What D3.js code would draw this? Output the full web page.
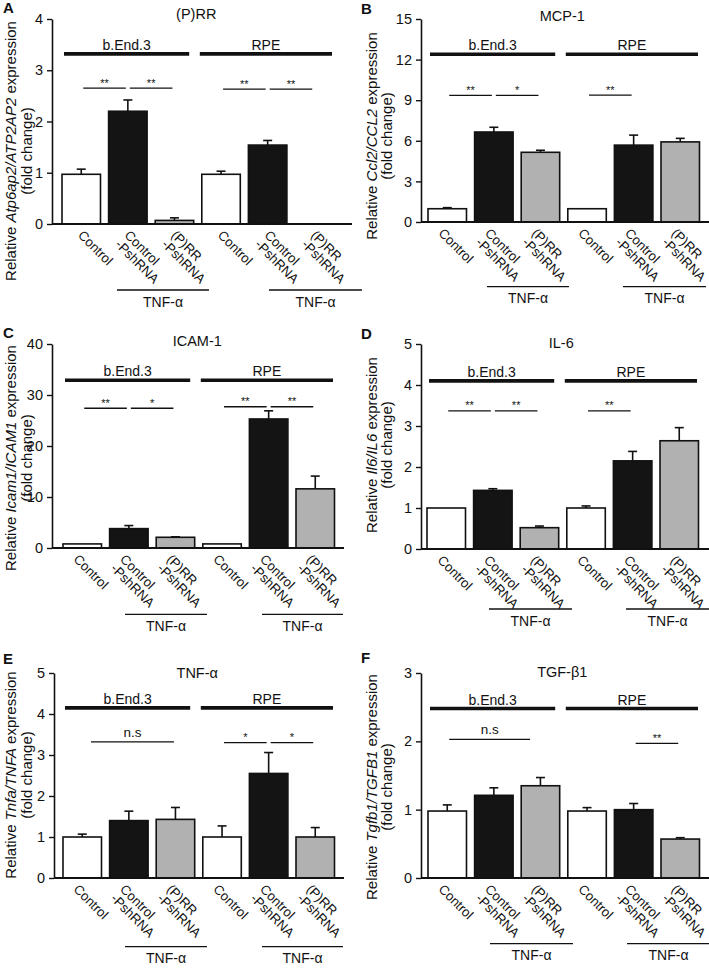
<!DOCTYPE html>
<html><head><meta charset="utf-8">
<script src="https://cdn.jsdelivr.net/npm/d3@7"></script>
<style>body{margin:0;background:#fff}svg{display:block}text{font-family:"Liberation Sans",Arial,sans-serif;fill:#111}</style>
</head><body>
<script>
// ---------- data ----------
const categories = [["Control"],["Control","-PshRNA"],["(P)RR","-PshRNA"],["Control"],["Control","-PshRNA"],["(P)RR","-PshRNA"]];
const barFills = ["white","black","gray","white","black","gray"];
const groupLabels = ["b.End.3","RPE"];
const treatmentLabel = "TNF-α";

const titles = ["(P)RR","MCP-1","ICAM-1","IL-6","TNF-α","TGF-β1"];
const genes = ["Atp6ap2/ATP2AP2","Ccl2/CCL2","Icam1/ICAM1","Il6/IL6","Tnfa/TNFA","Tgfb1/TGFB1"];
const letters = ["A","B","C","D","E","F"];

const valuesA = [0.97, 2.20, 0.07, 0.97, 1.54, 0];
const semA    = [0.10, 0.22, 0.05, 0.06, 0.09, 0];
const valuesB = [0.98, 6.65, 5.15, 0.98, 5.68, 5.92];
const semB    = [0.08, 0.35, 0.15, 0, 0.74, 0.26];
const valuesC = [0.8, 3.8, 2.1, 0.8, 25.3, 11.6];
const semC    = [0, 0.6, 0.1, 0, 1.6, 2.5];
const valuesD = [1.0, 1.43, 0.52, 1.0, 2.15, 2.64];
const semD    = [0, 0.04, 0.04, 0.05, 0.23, 0.32];
const valuesE = [1.0, 1.40, 1.43, 1.0, 2.55, 1.0];
const semE    = [0.07, 0.23, 0.29, 0.27, 0.51, 0.23];
const valuesF = [0.98, 1.21, 1.35, 0.98, 1.0, 0.57];
const semF    = [0.09, 0.11, 0.12, 0.05, 0.09, 0.02];

const ticksA = [0,1,2,3,4];
const ticksB = [0,3,6,9,12,15];
const ticksC = [0,10,20,30,40];
const ticksD = [0,1,2,3,4,5];
const ticksE = [0,1,2,3,4,5];
const ticksF = [0,1,2,3];

// group bar heights (data units) and significance marks [from, to, label, y]
const groupYA = 3.32, groupYB = 12.4, groupYC = 32.9, groupYD = 4.1, groupYE = 4.15, groupYF = 2.48;
const sigA = [[0,1,"**",2.65],[1,2,"**",2.65],[3,4,"**",2.63],[4,5,"**",2.63]];
const sigB = [[0,1,"**",9.35],[1,2,"*",9.35],[3,4,"**",9.37]];
const sigC = [[0,1,"**",27.4],[1,2,"*",27.4],[3,4,"**",27.7],[4,5,"**",27.7]];
const sigD = [[0,1,"**",3.37],[1,2,"**",3.37],[3,4,"**",3.37]];
const sigE = [[0.145,2.01,"n.s",3.32],[3,4,"*",3.30],[4,5,"*",3.30]];
const sigF = [[0,1.82,"n.s",2.03],[4,5,"**",1.97]];

const valuesAll = [valuesA,valuesB,valuesC,valuesD,valuesE,valuesF];
const semAll = [semA,semB,semC,semD,semE,semF];
const ticksAll = [ticksA,ticksB,ticksC,ticksD,ticksE,ticksF];
const groupYAll = [groupYA,groupYB,groupYC,groupYD,groupYE,groupYF];
const sigAll = [sigA,sigB,sigC,sigD,sigE,sigF];

// ---------- layout (pixels) ----------
const layout = [
  {x0:52, x1:352, yTop:19, yZero:224, first:62, letterX:3, letterY:13, titleY:18.5, labX1:16, labX2:32, labCY:151, tnf:[8.4,15.3,20.6,28.5], tnfDY:66, xlabDX:-4},
  {x0:421,x1:709, yTop:19, yZero:222, first:428, letterX:361, letterY:13.5, titleY:20.5, labX1:377, labX2:392, labCY:136, tnf:[12.4,9.3,8.6,6.5], tnfDY:64.7, xlabDX:-9.5},
  {x0:52, x1:344, yTop:344, yZero:548, first:63, letterX:3, letterY:338, titleY:346, labX1:16, labX2:32, labCY:458, tnf:[15.4,12.3,12.6,8.5], tnfDY:66.3, xlabDX:-9.5},
  {x0:421,x1:709, yTop:344, yZero:549, first:427, letterX:361, letterY:339, titleY:348, labX1:377, labX2:392, labCY:445, tnf:[15.4,13.3,12.6,10.5], tnfDY:60, xlabDX:-9.5},
  {x0:54, x1:344, yTop:673, yZero:878, first:63, letterX:3, letterY:664, titleY:678, labX1:16, labX2:32, labCY:775, tnf:[15.4,12.3,12.6,8.5], tnfDY:68.7, xlabDX:-9.5},
  {x0:421,x1:709, yTop:673, yZero:878, first:428, letterX:361, letterY:663, titleY:677, labX1:377, labX2:392, labCY:787, tnf:[15.4,13.3,12.6,10.5], tnfDY:65.6, xlabDX:-9.5}
];
const fillColor = {white:"#ffffff", black:"#141414", gray:"#b1b1b1"};
const pitch = 46.6, pad = 0.174;

const svg = d3.select("body").append("svg").attr("width",709).attr("height",968);

layout.forEach((L,p)=>{
  const g = svg.append("g");
  const vals = valuesAll[p], sem = semAll[p], ticks = ticksAll[p];
  const ymax = ticks[ticks.length-1];
  const y = d3.scaleLinear().domain([0,ymax]).range([L.yZero,L.yTop]);
  const r0 = L.first - pad*pitch/2;
  const x = d3.scaleBand().domain(d3.range(6)).range([r0, r0+6*pitch]).paddingInner(pad).paddingOuter(pad/2);
  const bw = x.bandwidth(), step = x.step();
  const cx = f => x(0) + bw/2 + f*step;

  // letter + title
  g.append("text").attr("x",L.letterX).attr("y",L.letterY).attr("font-size",15).attr("font-weight","bold").text(letters[p]);
  g.append("text").attr("x",(x(0)+x(5)+bw)/2-1.5).attr("y",L.titleY).attr("font-size",14.5).attr("text-anchor","middle").text(titles[p]);

  // y axis
  const ax = g.append("g").attr("transform",`translate(${L.x0},0)`)
    .call(d3.axisLeft(y).tickValues(ticks).tickFormat(d3.format("d")).tickSize(5).tickSizeOuter(0).tickPadding(4));
  ax.select(".domain").attr("stroke","#111").attr("stroke-width",1.6);
  ax.selectAll(".tick line").attr("stroke","#111").attr("stroke-width",1.4);
  ax.selectAll(".tick text").attr("font-size",14.5).attr("font-family","Liberation Sans, Arial, sans-serif").attr("fill","#222");

  // y label
  const lab = g.append("text").attr("transform",`translate(${L.labX1},${L.labCY}) rotate(-90)`).attr("text-anchor","middle").attr("font-size",15);
  lab.append("tspan").text("Relative ");
  lab.append("tspan").attr("font-style","italic").text(genes[p]);
  lab.append("tspan").text(" expression");
  g.append("text").attr("transform",`translate(${L.labX2},${L.labCY}) rotate(-90)`).attr("text-anchor","middle").attr("font-size",15).text("(fold change)");

  // bars
  g.selectAll("rect.bar").data(vals).join("rect")
    .attr("x",(d,i)=>x(i)).attr("width",bw)
    .attr("y",d=>y(d)).attr("height",d=>L.yZero - y(d))
    .attr("fill",(d,i)=>fillColor[barFills[i]])
    .attr("stroke","#111").attr("stroke-width",1.6)
    .attr("display",d=>d>0?null:"none");
  // error bars
  const eb = g.selectAll("g.err").data(vals.map((v,i)=>({v,s:sem[i],i})).filter(d=>d.s>0)).join("g");
  eb.append("line").attr("x1",d=>x(d.i)+bw/2).attr("x2",d=>x(d.i)+bw/2)
    .attr("y1",d=>y(d.v)).attr("y2",d=>y(d.v+d.s)).attr("stroke","#111").attr("stroke-width",1.6);
  eb.append("line").attr("x1",d=>x(d.i)+bw/2-4.5).attr("x2",d=>x(d.i)+bw/2+4.5)
    .attr("y1",d=>y(d.v+d.s)).attr("y2",d=>y(d.v+d.s)).attr("stroke","#111").attr("stroke-width",1.6);

  // x axis line
  g.append("line").attr("x1",L.x0).attr("x2",L.x1).attr("y1",L.yZero).attr("y2",L.yZero).attr("stroke","#111").attr("stroke-width",1.8);

  // x labels (rotated)
  categories.forEach((lines,i)=>{
    const t = g.append("text").attr("transform",`translate(${x(i)+bw/2+L.xlabDX},${L.yZero+12}) rotate(45)`).attr("font-size",13.2);
    lines.forEach((s,k)=>t.append("tspan").attr("x",0).attr("dy",k?"1.0em":0).text(s));
  });

  // group bars
  const gy = y(groupYAll[p]);
  const groups = [[x(0)+2, x(2)+bw-4.5],[x(3)-2, x(5)+bw-1.5]];
  groups.forEach((s,k)=>{
    g.append("line").attr("x1",s[0]).attr("x2",s[1]).attr("y1",gy).attr("y2",gy).attr("stroke","#111").attr("stroke-width",3.6);
    g.append("text").attr("x",(s[0]+s[1])/2).attr("y",gy-3.8).attr("text-anchor","middle").attr("font-size",14).text(groupLabels[k]);
  });

  // significance
  sigAll[p].forEach(([a,b,lbl,v])=>{
    const sx1 = cx(a)+2, sx2 = cx(b)-2, sy = y(v);
    g.append("line").attr("x1",sx1).attr("x2",sx2).attr("y1",sy).attr("y2",sy).attr("stroke","#111").attr("stroke-width",1.3);
    if(lbl==="n.s") g.append("text").attr("x",(sx1+sx2)/2).attr("y",sy-5).attr("text-anchor","middle").attr("font-size",13.5).text(lbl);
    else g.append("text").attr("x",(sx1+sx2)/2).attr("y",sy-1.5).attr("text-anchor","middle").attr("font-size",11).attr("fill","#222").text(lbl);
  });

  // treatment lines
  const ty = L.yZero + L.tnfDY;
  const tl = [[x(1)+L.tnf[0], x(2)+bw+L.tnf[1]],[x(4)+L.tnf[2], x(5)+bw+L.tnf[3]]];
  tl.forEach(s=>{
    g.append("line").attr("x1",s[0]).attr("x2",s[1]).attr("y1",ty).attr("y2",ty).attr("stroke","#111").attr("stroke-width",1.3);
    g.append("text").attr("x",(s[0]+s[1])/2).attr("y",ty+16.5).attr("text-anchor","middle").attr("font-size",14).text(treatmentLabel);
  });
});
</script>
</body></html>
